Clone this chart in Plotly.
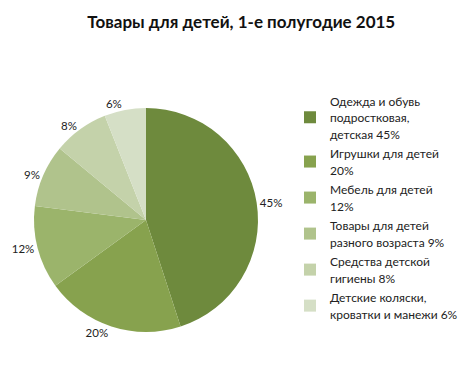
import plotly.graph_objects as go

categories = [
    "Одежда и обувь<br>подростковая,<br>детская 45%",
    "Игрушки для детей<br>20%",
    "Мебель для детей<br>12%",
    "Товары для детей<br>разного возраста 9%",
    "Средства детской<br>гигиены 8%",
    "Детские коляски,<br>кроватки и манежи 6%",
]
values = [45, 20, 12, 9, 8, 6]
colors = ["#6E8A3D", "#87A24E", "#9BB46B", "#B0C38C", "#C4D2AA", "#D5DFC6"]

W, H = 464, 379
cx, cy, r = 146, 220, 112

legend_labels = ['<span style="font-size:12px">' + c.replace("<br>", '</span><br><span style="font-size:12px">') + "</span>"
                 for c in categories]

fig = go.Figure(go.Pie(
    labels=legend_labels,
    values=values,
    sort=False,
    direction="clockwise",
    rotation=0,
    marker=dict(colors=colors, line=dict(width=0)),
    textinfo="percent",
    textposition="outside",
    texttemplate="%{percent:.0%}",
    outsidetextfont=dict(size=11.5, color="#222222", family="Lato"),
    domain=dict(x=[(cx - r) / W, (cx + r) / W], y=[(H - cy - r) / H, (H - cy + r) / H]),
    hoverinfo="percent",
))

fig.update_layout(
    width=W, height=H,
    margin=dict(l=0, r=0, t=0, b=0, autoexpand=False),
    paper_bgcolor="white",
    plot_bgcolor="white",
    font=dict(family="Lato", size=12, color="#222222"),
    title=dict(text="<b>Товары для детей, 1-е полугодие 2015</b>",
               x=0.52, xanchor="center", y=1 - 22 / H, yanchor="middle",
               font=dict(family="Lato", size=17, color="#111111")),
    legend=dict(x=290 / W, xanchor="left", y=1 - 86 / H, yanchor="top",
                font=dict(family="Lato", size=12.7, color="#222222"),
                tracegroupgap=10, itemwidth=30, bgcolor="rgba(0,0,0,0)"),
    showlegend=True,
)

fig.write_html("out.html",
               config={"displayModeBar": False},
               post_script="document.body.style.margin='0';document.body.style.padding='0';")
